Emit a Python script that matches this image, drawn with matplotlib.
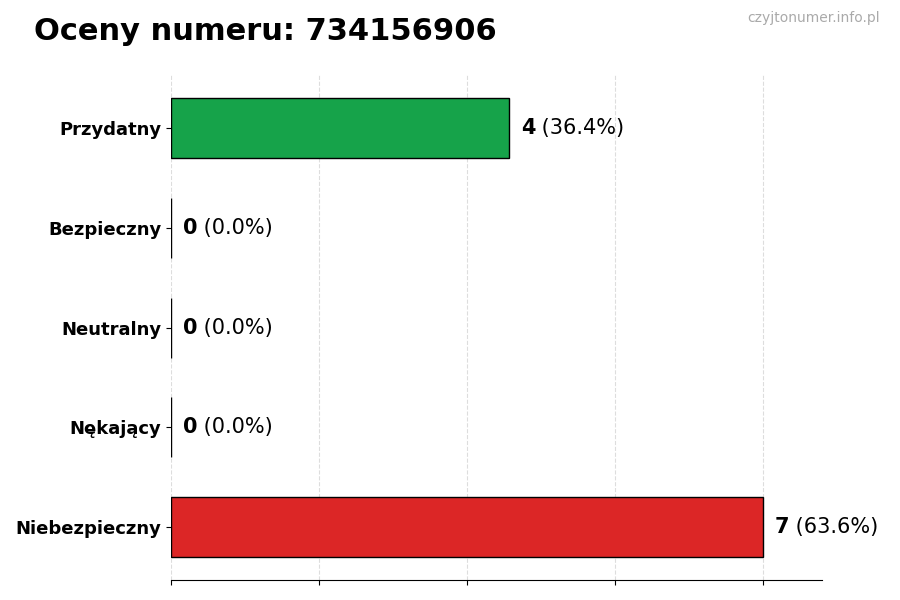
import numpy as np
import matplotlib
matplotlib.use('Agg')
import matplotlib.pyplot as plt

phone = '734156906'
categories = ['Przydatny', 'Bezpieczny', 'Neutralny', 'Nękający', 'Niebezpieczny']
counts = [4, 0, 0, 0, 7]
colors = ['#16a34a', '#9ca3af', '#3b82f6', '#f97316', '#dc2626']

total = sum(counts)
vmax = max(counts)

fig = plt.figure(figsize=(9, 6), dpi=100)
ax = fig.add_axes([0.19, 0.033, 0.723, 0.842])

y = np.arange(len(categories))
ax.barh(y, counts, height=0.6, color=colors, edgecolor='black', linewidth=1, zorder=3)
ax.invert_yaxis()
ax.set_xlim(0, vmax * 1.1)

ax.set_yticks(y)
ax.set_yticklabels(categories, fontsize=13, fontweight='bold')
ax.set_xticks(np.linspace(0, vmax, 5))
ax.set_xticklabels([])
ax.grid(axis='x', linestyle='--', color='#dddddd', linewidth=0.8, zorder=0)

for side in ['top', 'right', 'left']:
    ax.spines[side].set_visible(False)

# value labels: bold count + normal percent
for yi, c in zip(y, counts):
    pct = c / total * 100
    t = ax.text(c + vmax * 1.1 * 0.018, yi, str(c), fontsize=15, fontweight='bold',
                va='center', ha='left', zorder=4)
    ax.annotate(f' ({pct:.1f}%)', xy=(1, 0.5), xycoords=t, va='center', ha='left',
                fontsize=15)

fig.text(0.038, 0.948, f'Oceny numeru: {phone}', fontsize=22, fontweight='bold',
         va='center', ha='left')
fig.text(0.978, 0.97, 'czyjtonumer.info.pl', fontsize=10, color='#aaaaaa',
         va='center', ha='right')

fig.savefig('out.png', dpi=100)
